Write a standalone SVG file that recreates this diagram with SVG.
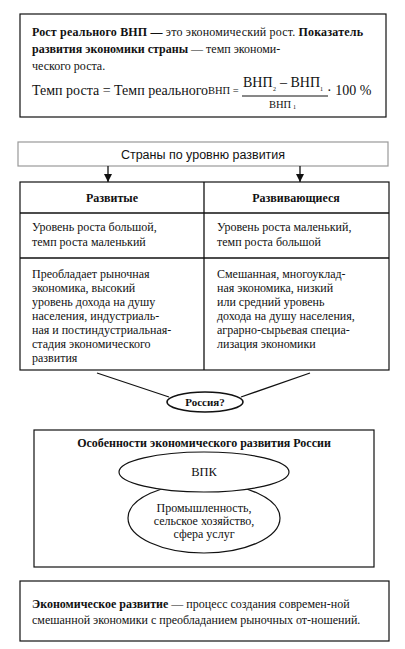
<svg xmlns="http://www.w3.org/2000/svg" width="405" height="649" viewBox="0 0 405 649">
<defs>
<style>
text{font-family:"Liberation Serif","DejaVu Serif","Noto Serif",serif;font-size:12px;fill:#111}
.b{font-weight:bold}
.box{fill:#fff;stroke:#111;stroke-width:1.2}
.ln{fill:none;stroke:#111;stroke-width:1.3}
text.sans{font-family:"Liberation Sans",Arial,sans-serif;font-size:12.5px}
.f{font-size:14px}
.sub{font-size:6px}
</style>
<marker id="ah" markerWidth="8" markerHeight="8" refX="8" refY="4" orient="auto" markerUnits="userSpaceOnUse">
<path d="M0,0 L8,4 L0,8 Z" fill="#111"/>
</marker>
</defs>
<rect width="405" height="649" fill="#fff"/>

<g id="definition-growth">
<rect class="box" x="20" y="14" width="366" height="103"/>
<text x="32" y="36" textLength="331" lengthAdjust="spacing"><tspan class="b">Рост реального ВНП —</tspan> это экономический рост. <tspan class="b">Показатель</tspan></text>
<text x="32" y="53"><tspan class="b">развития экономики страны</tspan> — темп экономи-</text>
<text x="32" y="70">ческого роста.</text>
<text class="f" x="32" y="95">Темп роста = Темп реального</text>
<text x="208" y="94" style="font-size:10.5px">ВНП =</text>
<text class="f" x="243" y="87">ВНП</text>
<text class="sub" x="273" y="91">2</text>
<text class="f" x="280" y="87">– ВНП</text>
<text class="sub" x="320" y="91">1</text>
<line x1="242" y1="96" x2="328" y2="96" stroke="#111" stroke-width="1"/>
<text x="269" y="108" style="font-size:10.5px">ВНП</text>
<text class="sub" x="293" y="109">1</text>
<text class="f" x="327" y="95">· 100 %</text>
</g>

<g id="header-countries">
<rect x="18" y="142" width="370" height="24" fill="#fff" stroke="#999" stroke-width="1.2"/>
<text class="sans" x="203" y="159" text-anchor="middle">Страны по уровню  развития</text>
</g>

<g id="connectors">
<line class="ln" x1="108" y1="166" x2="108" y2="182" marker-end="url(#ah)"/>
<line class="ln" x1="300" y1="166" x2="300" y2="182" marker-end="url(#ah)"/>
<line class="ln" x1="97" y1="373" x2="169" y2="397"/>
<line class="ln" x1="310" y1="373" x2="241" y2="397"/>
</g>

<g id="table">
<rect class="box" x="20" y="182" width="369" height="188"/>
<line class="ln" x1="204" y1="182" x2="204" y2="370" stroke-width="1.2"/>
<line class="ln" x1="20" y1="213" x2="389" y2="213" stroke-width="1.2"/>
<line class="ln" x1="20" y1="258" x2="389" y2="258" stroke-width="1.2"/>
</g>

<g id="developed">
<text class="b" x="112" y="202" text-anchor="middle">Развитые</text>
<text x="32" y="231">Уровень роста большой,</text>
<text x="32" y="246">темп роста маленький</text>
<text x="32" y="278">Преобладает рыночная</text>
<text x="32" y="292">экономика, высокий</text>
<text x="32" y="306">уровень дохода на душу</text>
<text x="32" y="320">населения, индустриаль-</text>
<text x="32" y="334">ная и постиндустриальная-</text>
<text x="32" y="348">стадия экономического</text>
<text x="32" y="362">развития</text>
</g>

<g id="developing">
<text class="b" x="296" y="202" text-anchor="middle">Развивающиеся</text>
<text x="217" y="231">Уровень роста маленький,</text>
<text x="217" y="246">темп роста большой</text>
<text x="217" y="278">Смешанная, многоуклад-</text>
<text x="217" y="292">ная экономика, низкий</text>
<text x="217" y="306">или средний  уровень</text>
<text x="217" y="320">дохода на душу населения,</text>
<text x="217" y="334">аграрно-сырьевая специа-</text>
<text x="217" y="348">лизация экономики</text>
</g>

<g id="russia">
<ellipse cx="205" cy="402" rx="38" ry="10" fill="#fff" stroke="#111" stroke-width="1.6"/>
<text class="b" x="205" y="406" text-anchor="middle" style="font-size:11px">Россия?</text>
</g>

<g id="russia-features">
<rect class="box" x="34" y="430" width="340" height="137"/>
<text class="b" x="204" y="447" text-anchor="middle">Особенности экономического развития России</text>
<ellipse cx="204" cy="518" rx="76" ry="35" fill="#fff" stroke="#111" stroke-width="1.2"/>
<ellipse cx="204" cy="472" rx="85" ry="20" fill="#fff" stroke="#111" stroke-width="1.2"/>
<text x="204" y="476" text-anchor="middle" style="font-size:12.5px">ВПК</text>
<text x="204" y="512" text-anchor="middle">Промышленность,</text>
<text x="204" y="525" text-anchor="middle">сельское хозяйство,</text>
<text x="204" y="538" text-anchor="middle">сфера услуг</text>
</g>

<g id="definition-development">
<rect class="box" x="20" y="581" width="369" height="60"/>
<text x="32" y="608"><tspan class="b">Экономическое развитие</tspan> — процесс  создания  современ-ной</text>
<text x="32" y="624">смешанной экономики с преобладанием  рыночных от-ношений.</text>
</g>
</svg>
